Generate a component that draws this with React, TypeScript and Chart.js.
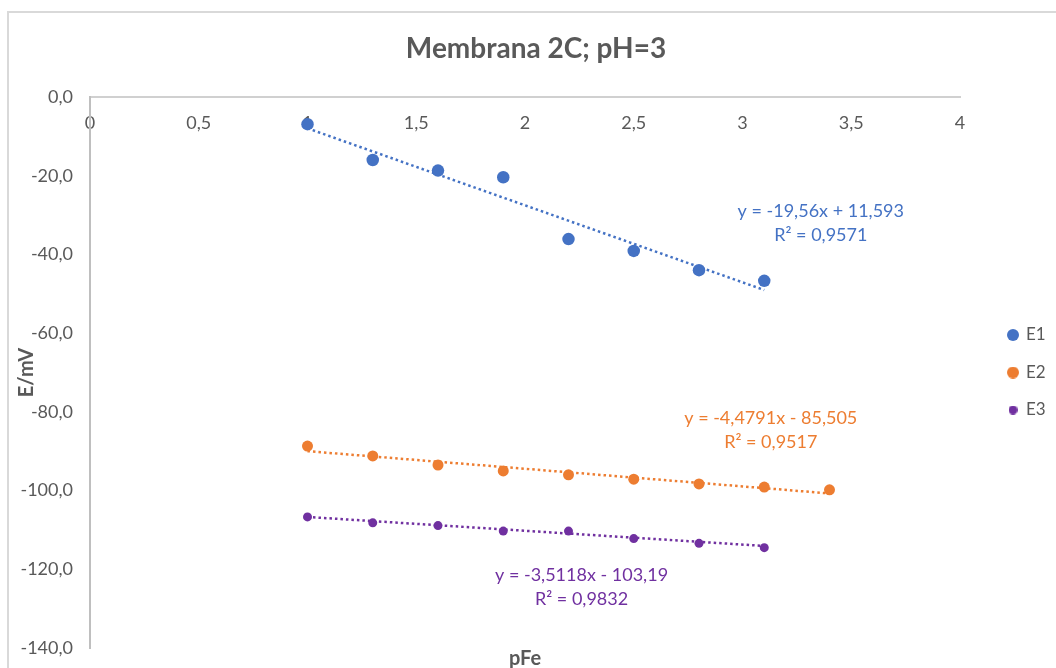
import React, { useEffect, useRef } from 'react';
import { Chart, registerables } from 'chart.js';

Chart.register(...registerables);

const TITLE = 'Membrana 2C; pH=3';
const X_TITLE = 'pFe';
const Y_TITLE = 'E/mV';
const SERIES_NAMES = ['E1', 'E2', 'E3'];
const COLORS = ['#4472C4', '#ED7D31', '#7030A0'];

const E1_X = [1, 1.3, 1.6, 1.9, 2.2, 2.5, 2.8, 3.1];
const E1_Y = [-6.9, -16.0, -18.7, -20.4, -36.1, -39.1, -44.0, -46.7];
const E2_X = [1, 1.3, 1.6, 1.9, 2.2, 2.5, 2.8, 3.1, 3.4];
const E2_Y = [-88.7, -91.2, -93.5, -95.0, -96.0, -97.1, -98.3, -99.1, -99.8];
const E3_X = [1, 1.3, 1.6, 1.9, 2.2, 2.5, 2.8, 3.1];
const E3_Y = [-106.7, -108.2, -108.9, -110.3, -110.3, -112.2, -113.4, -114.5];

const TREND_SLOPE = [-19.56, -4.4791, -3.5118];
const TREND_INTERCEPT = [11.593, -85.505, -103.19];
const TREND_EQ = ['y = -19,56x + 11,593', 'y = -4,4791x - 85,505', 'y = -3,5118x - 103,19'];
const TREND_R2 = ['R² = 0,9571', 'R² = 0,9517', 'R² = 0,9832'];
const LABEL_X = [3.36, 3.13, 2.26];
const LABEL_Y = [-29.0, -81.5, -121.4];

const X_MIN = 0;
const X_MAX = 4;
const X_STEP = 0.5;
const Y_MIN = -140;
const Y_MAX = 0;
const Y_STEP = 20;

const FONT = "Lato, 'Noto Sans', sans-serif";
const TEXT = '#595959';

const SERIES_X = [E1_X, E2_X, E3_X];
const SERIES_Y = [E1_Y, E2_Y, E3_Y];
const POINT_R = [6.25, 5.5, 4.5];
const LEGEND_D = [12, 12, 9];

function makeDot(color: string, d: number) {
  const c = document.createElement('canvas');
  c.width = d;
  c.height = d;
  const x = c.getContext('2d')!;
  x.fillStyle = color;
  x.beginPath();
  x.arc(d / 2, d / 2, d / 2, 0, Math.PI * 2);
  x.fill();
  return c;
}

const decor = {
  id: 'decor',
  beforeDraw(chart: any) {
    const ctx = chart.ctx;
    ctx.save();
    ctx.strokeStyle = '#d9d9d9';
    ctx.lineWidth = 2;
    ctx.beginPath();
    ctx.moveTo(8, chart.height);
    ctx.lineTo(8, 12);
    ctx.lineTo(chart.width, 12);
    ctx.stroke();
    ctx.restore();
  },
  afterDatasetsDraw(chart: any) {
    const ctx = chart.ctx;
    const xs = chart.scales.x;
    const ys = chart.scales.y;
    ctx.save();
    ctx.textAlign = 'center';
    ctx.textBaseline = 'middle';
    ctx.font = `18px ${FONT}`;
    for (let i = 0; i < 3; i++) {
      const px = xs.getPixelForValue(LABEL_X[i]);
      const py = ys.getPixelForValue(LABEL_Y[i]);
      ctx.fillStyle = COLORS[i];
      ctx.fillText(TREND_EQ[i], px, py);
      ctx.fillText(TREND_R2[i], px, py + 24);
    }
    ctx.fillStyle = TEXT;
    ctx.font = `bold 20px ${FONT}`;
    const ca = chart.chartArea;
    ctx.fillText(X_TITLE, (ca.left + ca.right) / 2, 659);
    ctx.restore();
  },
};

export default function App() {
  const ref = useRef<HTMLCanvasElement>(null);
  useEffect(() => {
    const canvas = ref.current!;
    const dots = COLORS.map((c, i) => makeDot(c, LEGEND_D[i]));
    const pointSets = SERIES_NAMES.map((name, i) => ({
      label: name,
      data: SERIES_X[i].map((x, j) => ({ x, y: SERIES_Y[i][j] })),
      backgroundColor: COLORS[i],
      borderColor: COLORS[i],
      pointRadius: POINT_R[i],
      pointBorderWidth: 0,
      showLine: false,
    }));
    const trendSets = SERIES_NAMES.map((name, i) => {
      const xs = SERIES_X[i];
      const x0 = Math.min(...xs);
      const x1 = Math.max(...xs);
      return {
        label: name + ' trend',
        data: [x0, x1].map((x) => ({ x, y: TREND_SLOPE[i] * x + TREND_INTERCEPT[i] })),
        borderColor: COLORS[i],
        backgroundColor: COLORS[i],
        borderWidth: 2.5,
        borderDash: [2.5, 3],
        pointRadius: 0,
        showLine: true,
        fill: false,
      };
    });
    const spacer = (w: number, weight: number) => ({
      type: 'linear',
      position: 'right',
      display: true,
      weight,
      ticks: { display: false },
      grid: { display: false, drawTicks: false },
      border: { display: false },
      afterFit: (s: any) => {
        s.width = w;
      },
    });
    const chart = new Chart(canvas, {
      type: 'scatter',
      data: { datasets: [...pointSets, ...trendSets] as any },
      plugins: [decor],
      options: {
        animation: false,
        responsive: false,
        devicePixelRatio: 1,
        layout: { padding: { left: 16, right: 0, top: 0, bottom: 20 } },
        plugins: {
          title: {
            display: true,
            text: TITLE,
            color: TEXT,
            font: { family: FONT, size: 28, weight: 'bold' },
            padding: { top: 32.2, bottom: 31.2 },
          },
          legend: {
            position: 'right',
            fullSize: false,
            maxWidth: 60,
            labels: {
              usePointStyle: true,
              boxWidth: 9,
              boxHeight: 9,
              padding: 20.5,
              color: TEXT,
              font: { family: FONT, size: 17 },
              generateLabels: () =>
                SERIES_NAMES.map((n, i) => ({
                  text: n,
                  fillStyle: COLORS[i],
                  strokeStyle: COLORS[i],
                  lineWidth: 0,
                  pointStyle: dots[i],
                  datasetIndex: i,
                  hidden: false,
                  fontColor: TEXT,
                })) as any,
            },
          },
          tooltip: { enabled: false },
        },
        scales: {
          x: {
            type: 'linear',
            position: { y: 0 } as any,
            min: X_MIN,
            max: X_MAX,
            ticks: {
              stepSize: X_STEP,
              padding: 15,
              maxRotation: 0,
              autoSkip: false,
              color: TEXT,
              font: { family: FONT, size: 18 },
              callback: (v: any) => String(v).replace('.', ','),
            },
            grid: { display: false, drawTicks: false },
            border: { display: true, color: '#d0d0d0', width: 2 },
          },
          y: {
            type: 'linear',
            position: 'left',
            min: Y_MIN,
            max: Y_MAX,
            ticks: {
              stepSize: Y_STEP,
              padding: 0,
              color: TEXT,
              font: { family: FONT, size: 18 },
              callback: (v: any) => Number(v).toFixed(1).replace('.', ','),
            },
            grid: {
              display: true,
              drawOnChartArea: false,
              drawTicks: true,
              tickLength: 17,
              tickColor: 'rgba(0,0,0,0)',
            },
            border: { display: true, color: '#bfbfbf', width: 2 },
            title: {
              display: true,
              text: Y_TITLE,
              color: TEXT,
              font: { family: FONT, size: 20, weight: 'bold' },
              padding: { top: -1.5, bottom: 0 },
            },
            afterFit: (s: any) => {
              s.width = 74;
            },
          },
          y2: spacer(28, 0),
          y3: spacer(8, 2000),
        },
      } as any,
    });
    return () => chart.destroy();
  }, []);
  return (
    <div style={{ position: 'fixed', left: 0, top: 0, width: 1056, height: 668, background: '#fff' }}>
      <canvas ref={ref} width={1056} height={668} style={{ display: 'block', width: 1056, height: 668 }} />
    </div>
  );
}
